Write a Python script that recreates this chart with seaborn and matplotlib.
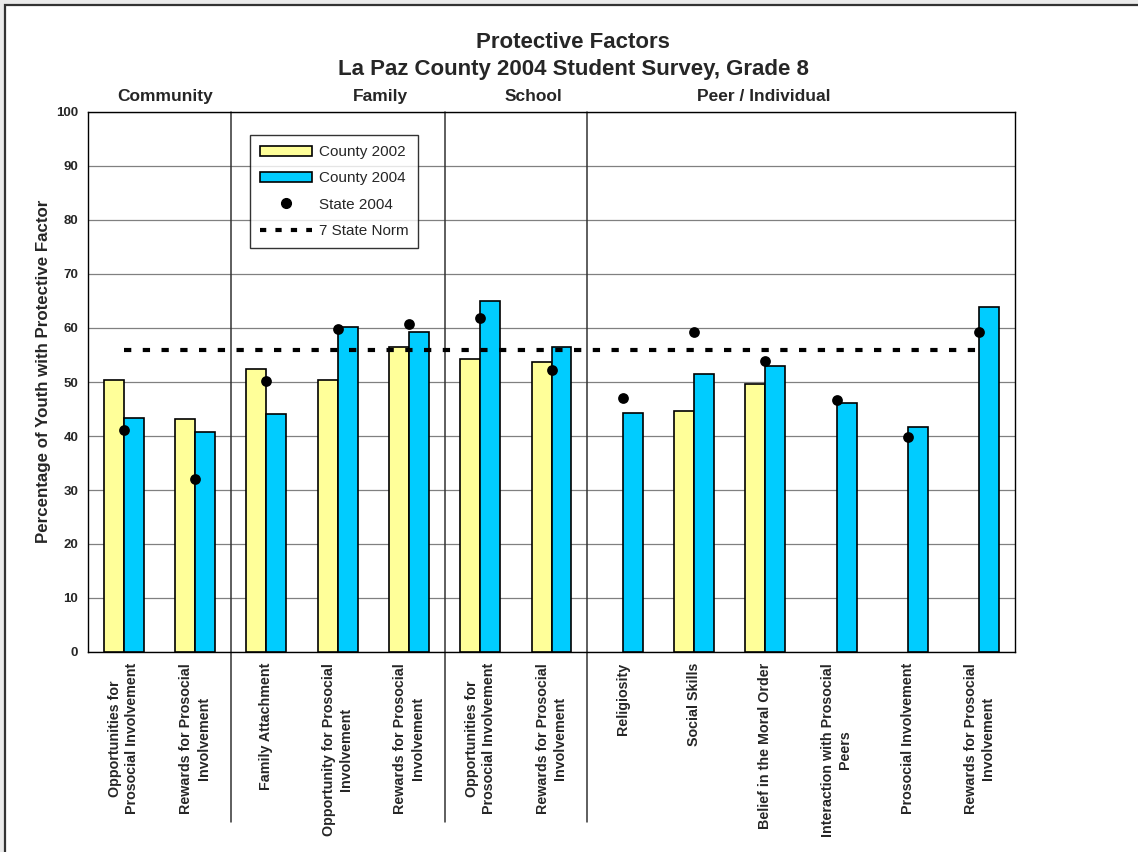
import numpy as np
import pandas as pd
import matplotlib
matplotlib.use('Agg')
import matplotlib.pyplot as plt
import matplotlib.transforms as mtransforms
from matplotlib.patches import Patch, Rectangle
from matplotlib.lines import Line2D
import seaborn as sns

# data
factor_keys = ['C1', 'C2', 'F1', 'F2', 'F3', 'S1', 'S2', 'P1', 'P2', 'P3', 'P4', 'P5', 'P6']
categories = ['Opportunities for\nProsocial Involvement', 'Rewards for Prosocial\nInvolvement',
              'Family Attachment', 'Opportunity for Prosocial\nInvolvement', 'Rewards for Prosocial\nInvolvement',
              'Opportunities for\nProsocial Involvement', 'Rewards for Prosocial\nInvolvement',
              'Religiosity', 'Social Skills', 'Belief in the Moral Order',
              'Interaction with Prosocial\nPeers', 'Prosocial Involvement', 'Rewards for Prosocial\nInvolvement']
county_2002 = [50.4, 43.1, 52.5, 50.4, 56.5, 54.3, 53.7, np.nan, 44.7, 49.7, np.nan, np.nan, np.nan]
county_2004 = [43.4, 40.8, 44.1, 60.2, 59.2, 65.0, 56.5, 44.3, 51.4, 53.0, 46.1, 41.7, 63.8]
state_2004 = [41.2, 32.1, 50.1, 59.8, 60.7, 61.9, 52.3, 47.0, 59.2, 53.8, 46.7, 39.9, 59.3]
state_norm = [56.0] * 13
domains = ['Community', 'Family', 'School', 'Peer / Individual']
domain_label_x = [0.58, 3.6, 5.74, 8.98]
domain_breaks = [1.5, 4.5, 6.5]

yellow = '#FFFF99'
blue = '#00CCFF'

df = pd.DataFrame({
    'factor': factor_keys * 2,
    'series': ['County 2002'] * 13 + ['County 2004'] * 13,
    'value': county_2002 + county_2004,
}).dropna()

sns.set_style('white')
plt.rcParams['font.family'] = ['Liberation Sans', 'DejaVu Sans']

fig = plt.figure(figsize=(11.38, 8.52), dpi=100, facecolor='#ebebeb')
frame = Rectangle((5 / 1138, -0.1), 1.2, 1.1 - 5.5 / 852, transform=fig.transFigure,
                  facecolor='white', edgecolor='#333333', linewidth=1.6, zorder=-5)
fig.patches.append(frame)

ax = fig.add_axes([88 / 1138, 1 - 652 / 852, (1015 - 88) / 1138, (652 - 112) / 852])

sns.barplot(data=df, x='factor', y='value', hue='series', order=factor_keys,
            hue_order=['County 2002', 'County 2004'], palette=[yellow, blue],
            width=0.56, saturation=1, edgecolor='black', linewidth=1.2,
            errorbar=None, legend=False, zorder=3, ax=ax)

x = np.arange(len(factor_keys))
sns.lineplot(x=x, y=state_norm, color='black', linewidth=3, ax=ax, zorder=4)
ax.lines[-1].set_dashes((1.75, 2.75))
sns.scatterplot(x=x, y=state_2004, color='black', s=60, edgecolor='black', linewidth=0,
                ax=ax, zorder=5)

ax.set_xlim(-0.5, len(factor_keys) - 0.5)
ax.set_ylim(0, 100)
ax.set_yticks(np.arange(0, 101, 10))
ax.set_yticks(np.arange(0, 101, 2), minor=True)
ax.yaxis.grid(True, which='major', color='#808080', linewidth=0.9, zorder=0)
ax.set_axisbelow(True)

ax.set_xticks(x)
ax.set_xticklabels(categories, rotation=90, ha='center', va='top', fontsize=10.3,
                   fontweight='bold', linespacing=1.3)
ax.set_xticks(np.arange(-0.5, len(factor_keys), 1), minor=True)
ax.tick_params(axis='x', which='major', length=0, pad=8)
ax.tick_params(axis='x', which='minor', length=4, width=1, direction='out', color='black')
ax.tick_params(axis='y', which='major', length=4, width=1, direction='out', pad=3,
               labelsize=9.5, color='black')
ax.tick_params(axis='y', which='minor', length=2.5, width=1, direction='out', color='black')
for lab in ax.get_yticklabels():
    lab.set_fontweight('bold')

for s in ax.spines.values():
    s.set_color('black')
    s.set_linewidth(1)

ax.set_xlabel('')
ax.set_ylabel('Percentage of Youth with Protective Factor', fontsize=12.2, fontweight='bold')
ax.yaxis.set_label_coords(-0.04, 0.52)

# domain separators reaching down through the tick labels
trans = mtransforms.blended_transform_factory(ax.transData, ax.transAxes)
for b in domain_breaks:
    ax.plot([b, b], [1, -0.315], transform=trans, color='#333333', linewidth=1.1,
            clip_on=False, zorder=2)
for name, xp in zip(domains, domain_label_x):
    ax.text(xp, 1.028, name, transform=trans, ha='center', va='center',
            fontsize=12.5, fontweight='bold')

handles = [Patch(facecolor=yellow, edgecolor='black', linewidth=1.2, label='County 2002'),
           Patch(facecolor=blue, edgecolor='black', linewidth=1.2, label='County 2004'),
           Line2D([], [], color='black', marker='o', linestyle='none', markersize=7,
                  label='State 2004'),
           Line2D([], [], color='black', linewidth=3, dashes=(1.5, 2.2), label='7 State Norm')]
leg = ax.legend(handles=handles, loc='upper left', bbox_to_anchor=(0.1748, 0.957),
                fontsize=11, frameon=True, fancybox=False, edgecolor='black',
                handlelength=3.4, handleheight=0.6, labelspacing=0.8, borderpad=0.65,
                handletextpad=0.45, borderaxespad=0)
leg.get_frame().set_linewidth(1)
leg.set_zorder(6)

fig.text(573 / 1138, 1 - 42 / 852, 'Protective Factors', ha='center', va='center',
         fontsize=16, fontweight='bold')
fig.text(573 / 1138, 1 - 70 / 852, 'La Paz County 2004 Student Survey, Grade 8',
         ha='center', va='center', fontsize=16, fontweight='bold')

fig.savefig('out.png', dpi=100)
